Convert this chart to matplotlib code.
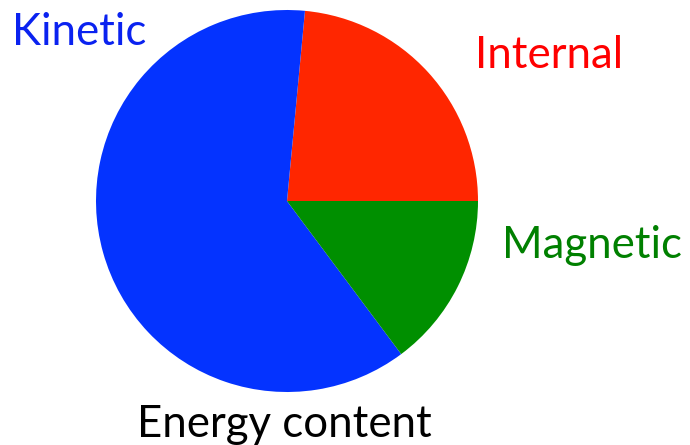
import matplotlib
matplotlib.use("Agg")
import matplotlib.pyplot as plt

# Slice data (percent of total energy)
labels = ["Internal", "Kinetic", "Magnetic"]
shares = [23.5, 61.7, 14.8]
slice_colors = ["#FF2600", "#0433FF", "#008F00"]
text_colors = ["#FF0000", "#0A22F0", "#008000"]

# Label positions in pixels (x, baseline from bottom)
label_pos = {"Internal": (549, 377), "Kinetic": (79, 400), "Magnetic": (592, 187)}

fig = plt.figure(figsize=(6.9, 4.45), dpi=100)
ax = fig.add_axes([0, 0, 1, 1])

ax.pie(shares, colors=slice_colors, startangle=0, counterclock=True,
       center=(287, 244), radius=191, frame=True)
ax.set_xlim(0, 690)
ax.set_ylim(0, 445)
ax.set_aspect("equal")
ax.axis("off")

for name, col in zip(labels, text_colors):
    x, y = label_pos[name]
    ax.text(x, y, name, color=col, fontsize=31.5, family="Lato",
            ha="center", va="baseline")

ax.text(284, 8, "Energy content", color="black", fontsize=31.5, family="Lato",
        ha="center", va="baseline")

fig.savefig("out.png", dpi=100)
